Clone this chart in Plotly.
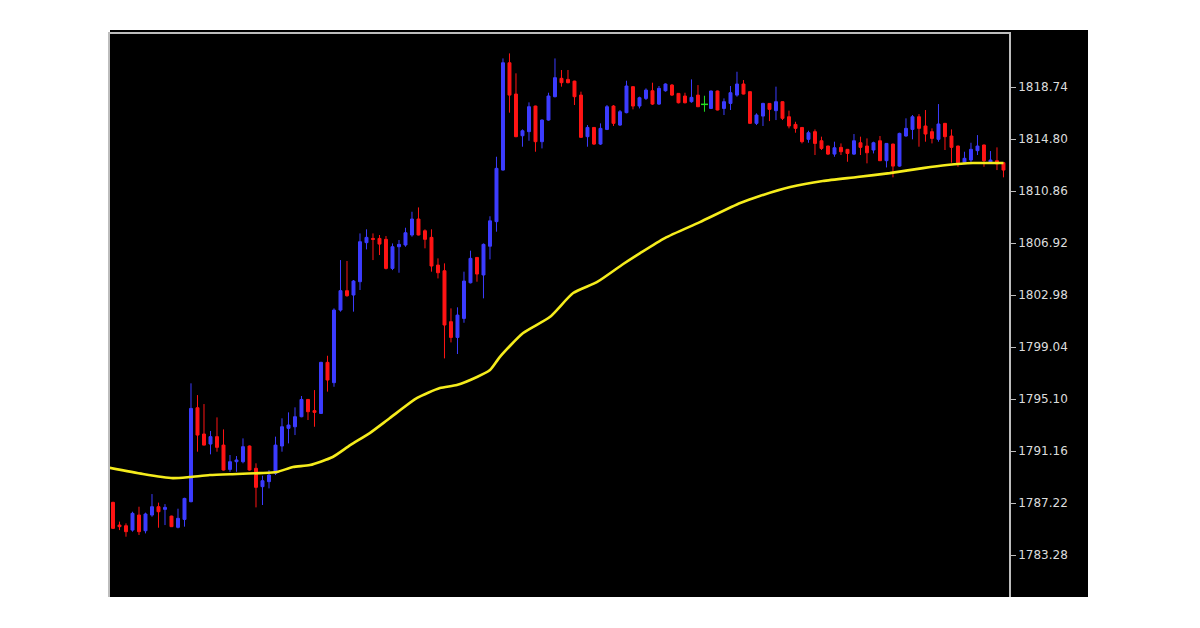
import plotly.graph_objects as go

# candle prices (one entry per bar, left to right)
opens = [1787.27, 1785.55, 1785.50, 1785.17, 1786.31, 1785.12, 1786.31, 1786.94, 1786.74, 1786.23,
         1785.38, 1785.98, 1787.32, 1794.44, 1792.45, 1791.69, 1792.25, 1791.61, 1789.77, 1790.35,
         1790.35, 1791.54, 1789.85, 1788.46, 1788.84, 1789.47, 1791.54, 1792.88, 1793.00, 1793.76,
         1795.07, 1794.22, 1794.01, 1797.88, 1796.34, 1801.84, 1803.31, 1802.98, 1803.99, 1806.95,
         1807.27, 1807.27, 1807.20, 1805.00, 1806.64, 1806.77, 1807.53, 1808.74, 1807.85, 1807.35,
         1805.25, 1804.82, 1800.96, 1799.77, 1801.21, 1803.91, 1805.83, 1804.50, 1806.68, 1808.54,
         1812.45, 1820.58, 1818.21, 1815.05, 1815.36, 1817.30, 1814.60, 1816.24, 1818.01, 1819.40,
         1819.32, 1819.19, 1818.13, 1814.98, 1815.68, 1814.42, 1815.53, 1817.30, 1815.86, 1816.80,
         1818.77, 1817.30, 1817.88, 1818.46, 1817.45, 1818.46, 1818.89, 1818.26, 1818.06, 1817.63,
         1818.13, 1817.43, 1817.12, 1818.44, 1817.12, 1817.50, 1818.13, 1818.97, 1818.39, 1815.99,
         1816.54, 1817.50, 1816.95, 1817.63, 1816.49, 1815.91, 1815.68, 1814.78, 1815.36, 1814.67,
         1814.27, 1813.66, 1814.17, 1814.02, 1813.66, 1814.52, 1814.27, 1813.97, 1814.67, 1813.16,
         1814.42, 1812.75, 1815.03, 1815.53, 1816.49, 1815.79, 1815.36, 1814.78, 1815.99, 1815.03,
         1814.27, 1813.01, 1813.21, 1813.92, 1814.35, 1813.01, 1813.16, 1813.01]
highs = [1787.32, 1785.81, 1785.68, 1786.56, 1786.94, 1786.49, 1787.90, 1787.25, 1787.14, 1786.26,
         1786.79, 1787.62, 1796.29, 1795.40, 1794.72, 1792.68, 1793.71, 1792.80, 1790.86, 1790.78,
         1792.12, 1791.58, 1790.23, 1789.29, 1789.72, 1792.25, 1793.64, 1794.09, 1794.47, 1795.33,
         1795.10, 1795.78, 1797.92, 1798.38, 1801.97, 1805.63, 1805.56, 1804.12, 1807.65, 1807.96,
         1807.65, 1807.53, 1807.45, 1806.89, 1807.15, 1808.08, 1809.29, 1809.62, 1807.96, 1807.96,
         1805.76, 1805.38, 1801.97, 1802.05, 1804.75, 1806.34, 1805.86, 1806.89, 1808.95, 1813.46,
         1820.91, 1821.29, 1819.78, 1815.53, 1817.58, 1817.33, 1816.29, 1818.31, 1820.91, 1820.03,
         1820.03, 1819.22, 1818.39, 1815.86, 1815.71, 1815.99, 1817.38, 1817.38, 1817.00, 1819.22,
         1818.80, 1818.01, 1818.64, 1819.07, 1818.82, 1819.02, 1818.97, 1818.29, 1818.31, 1819.32,
         1818.89, 1818.08, 1818.47, 1818.47, 1817.88, 1818.82, 1819.90, 1819.27, 1818.42, 1816.75,
         1817.55, 1817.53, 1818.77, 1817.66, 1816.95, 1816.11, 1815.71, 1815.43, 1815.53, 1814.98,
         1814.30, 1814.60, 1814.47, 1814.05, 1815.18, 1814.98, 1814.85, 1814.60, 1815.03, 1814.50,
         1814.45, 1815.28, 1816.37, 1816.62, 1816.69, 1817.00, 1815.61, 1817.45, 1816.02, 1815.53,
         1814.30, 1813.84, 1814.52, 1815.10, 1814.38, 1813.89, 1814.17, 1813.04]
lows = [1785.25, 1785.17, 1784.67, 1785.05, 1784.80, 1784.92, 1786.18, 1785.35, 1785.55, 1785.40,
        1785.30, 1785.43, 1787.28, 1791.11, 1791.58, 1790.91, 1791.11, 1789.68, 1789.59, 1789.59,
        1790.23, 1789.68, 1786.89, 1787.07, 1788.33, 1789.34, 1791.11, 1791.74, 1792.37, 1793.72,
        1793.51, 1793.00, 1793.97, 1795.66, 1796.03, 1801.72, 1802.85, 1801.72, 1803.36, 1806.44,
        1805.63, 1806.01, 1804.92, 1804.87, 1804.67, 1806.64, 1807.40, 1807.50, 1806.52, 1804.75,
        1804.24, 1798.18, 1799.39, 1798.51, 1800.88, 1803.86, 1803.99, 1802.73, 1805.68, 1807.78,
        1812.41, 1816.80, 1814.94, 1814.22, 1814.67, 1813.84, 1814.09, 1816.19, 1817.96, 1818.77,
        1819.02, 1817.38, 1814.89, 1814.22, 1814.35, 1814.35, 1815.48, 1815.79, 1815.79, 1816.75,
        1817.05, 1817.12, 1817.76, 1817.38, 1817.38, 1818.39, 1818.06, 1817.50, 1817.50, 1817.55,
        1817.22, 1816.87, 1817.09, 1816.97, 1816.62, 1817.00, 1818.01, 1818.18, 1815.94, 1815.86,
        1815.79, 1816.16, 1816.24, 1816.24, 1815.61, 1815.28, 1814.47, 1814.52, 1813.59, 1813.97,
        1813.59, 1813.46, 1813.59, 1813.08, 1813.59, 1813.59, 1812.96, 1813.71, 1813.13, 1812.65,
        1811.90, 1812.70, 1814.98, 1814.78, 1814.22, 1814.60, 1814.47, 1814.60, 1813.97, 1813.01,
        1812.70, 1812.91, 1813.01, 1813.59, 1812.70, 1812.91, 1812.45, 1811.90]
closes = [1785.30, 1785.43, 1785.05, 1786.44, 1785.05, 1786.39, 1786.94, 1786.56, 1786.89, 1785.43,
          1786.06, 1787.57, 1794.39, 1792.37, 1791.61, 1792.25, 1791.44, 1789.72, 1790.35, 1790.48,
          1791.49, 1789.72, 1788.41, 1788.91, 1789.34, 1791.61, 1793.00, 1793.13, 1793.76, 1795.07,
          1794.14, 1794.09, 1797.88, 1796.54, 1801.84, 1803.31, 1802.93, 1804.04, 1807.02, 1807.35,
          1807.20, 1806.84, 1805.00, 1806.64, 1806.82, 1807.70, 1808.74, 1807.53, 1807.20, 1805.18,
          1804.67, 1800.71, 1799.77, 1801.46, 1804.04, 1805.76, 1804.57, 1806.82, 1808.60, 1812.58,
          1820.58, 1818.13, 1814.98, 1815.43, 1817.25, 1814.60, 1816.24, 1818.06, 1819.45, 1819.07,
          1819.07, 1818.01, 1814.93, 1815.68, 1814.42, 1815.61, 1817.25, 1815.99, 1816.87, 1818.82,
          1817.30, 1817.93, 1818.51, 1817.45, 1818.64, 1818.97, 1818.13, 1817.55, 1817.55, 1817.96,
          1817.25, 1817.43, 1818.44, 1817.00, 1817.63, 1818.31, 1818.97, 1818.21, 1815.99, 1816.62,
          1817.50, 1817.05, 1817.63, 1816.37, 1815.79, 1815.61, 1814.60, 1815.28, 1814.47, 1814.09,
          1813.66, 1814.14, 1813.84, 1813.71, 1814.67, 1814.17, 1813.76, 1814.52, 1813.16, 1814.47,
          1812.75, 1815.23, 1815.61, 1816.49, 1815.61, 1815.18, 1814.85, 1815.94, 1814.98, 1814.17,
          1813.01, 1813.34, 1814.02, 1814.27, 1813.16, 1813.21, 1812.91, 1812.45]

# moving average (yellow line), sampled at bar positions
ma_pos = [-0.5, 4.6, 9.2, 11.8, 14.9, 19.1, 22.6, 25.2, 27.7, 30.3, 33.8, 36.5, 39.5, 42.6, 46.8,
          50.3, 52.9, 56.0, 58.0, 59.5, 63.1, 67.2, 70.8, 74.5, 78.5, 81.1, 84.9, 90.3, 96.5, 99.5,
          104.2, 109.2, 114.5, 119.5, 124.6, 128.3, 132.3, 137.0]
ma_val = [1789.89, 1789.42, 1789.11, 1789.19, 1789.34, 1789.42, 1789.49, 1789.57, 1789.95, 1790.10,
          1790.71, 1791.61, 1792.52, 1793.66, 1795.18, 1795.93, 1796.16, 1796.77, 1797.30, 1798.28,
          1800.10, 1801.31, 1803.13, 1803.97, 1805.33, 1806.16, 1807.30, 1808.51, 1809.95, 1810.48,
          1811.16, 1811.62, 1811.92, 1812.22, 1812.60, 1812.83, 1812.98, 1812.98]

price_ticks = [1783.28, 1787.22, 1791.16, 1795.10, 1799.04, 1802.98, 1806.92, 1810.86, 1814.80, 1818.74]

bars = list(range(len(opens)))

# dojis (open == close) are drawn as green crosses, the rest as normal candles
is_doji = [o == c for o, c in zip(opens, closes)]
c_open = [None if d else o for o, d in zip(opens, is_doji)]
c_high = [None if d else h for h, d in zip(highs, is_doji)]
c_low = [None if d else l for l, d in zip(lows, is_doji)]
c_close = [None if d else c for c, d in zip(closes, is_doji)]

blue = "#3c3cff"
red = "#ff1414"
green = "#22dd22"

fig = go.Figure()

fig.add_trace(go.Candlestick(
    x=bars, open=c_open, high=c_high, low=c_low, close=c_close,
    increasing=dict(line=dict(color=blue, width=1), fillcolor=blue),
    decreasing=dict(line=dict(color=red, width=1), fillcolor=red),
    whiskerwidth=0, showlegend=False, hoverinfo="skip",
))

# doji wicks + tick
dx, dy = [], []
for i, d in enumerate(is_doji):
    if d:
        dx += [i, i, None]
        dy += [lows[i], highs[i], None]
fig.add_trace(go.Scatter(x=dx, y=dy, mode="lines", line=dict(color=green, width=1),
                         showlegend=False, hoverinfo="skip"))
fig.add_trace(go.Scatter(x=[i for i, d in enumerate(is_doji) if d],
                         y=[closes[i] for i, d in enumerate(is_doji) if d],
                         mode="markers", marker=dict(symbol="line-ew", size=5, line=dict(color=green, width=1.5)),
                         showlegend=False, hoverinfo="skip"))

fig.add_trace(go.Scatter(x=ma_pos, y=ma_val, mode="lines", line=dict(color="#f5ec1c", width=2.6, shape="spline", smoothing=0.6),
                         showlegend=False, hoverinfo="skip"))

frame = "#bdbdbd"

# black panel behind plot and price scale
fig.add_shape(type="rect", xref="paper", yref="paper", x0=0, x1=978 / 899, y0=0, y1=1 + 4 / 563,
              fillcolor="black", line=dict(width=0), layer="below")

# page body has an 8px margin, so the figure is drawn 8px in from the window edge
fig.update_layout(
    width=1184, height=612,
    margin=dict(l=102, r=183, t=26, b=23),
    paper_bgcolor="white", plot_bgcolor="black",
    boxgap=0.35,
    xaxis=dict(range=[-0.46, 137.85], rangeslider=dict(visible=False), showgrid=False, zeroline=False,
               showticklabels=False, ticks="", side="top", showline=True, linecolor=frame, linewidth=1.5),
    yaxis=dict(range=[1780.10, 1822.76], side="right", tickvals=price_ticks,
               ticktext=["%.2f" % v for v in price_ticks], ticks="outside", ticklen=5, tickcolor=frame,
               tickfont=dict(family="DejaVu Sans", size=12, color="#dcdcdc"),
               showgrid=False, zeroline=False, showline=True, mirror=True, linecolor=frame, linewidth=1.5),
)

fig.write_html("out.html")
